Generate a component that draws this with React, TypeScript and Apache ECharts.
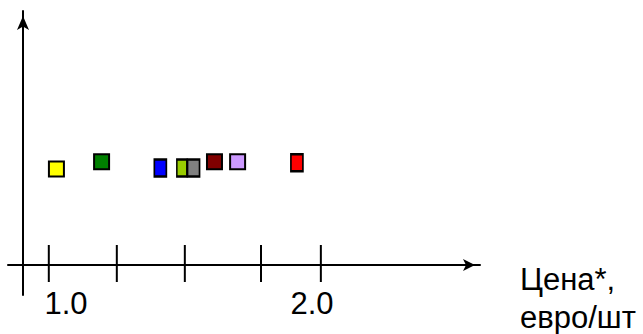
import React, { useEffect, useRef } from "react";
import * as echarts from "echarts";

// Price axis (euro per piece)
const TICK_VALUES = [1.0, 1.25, 1.5, 1.78, 2.0];
const TICK_LABELS = ["1.0", "2.0"];
const AXIS_TITLE = "Цена*,\nевро/шт";

// Products: price (x) and arbitrary vertical level (y)
const PRICES = [1.028, 1.194, 1.41, 1.489, 1.532, 1.609, 1.694, 1.912];
const LEVELS = [0.96, 1.033, 0.97, 0.97, 0.97, 1.033, 1.033, 1.022];
const COLORS = ["#FFFF00", "#008000", "#0000FF", "#99CC00", "#808080", "#800000", "#CC99FF", "#FF0000"];
const SIZES: [number, number][] = [[15, 15], [15, 15], [12, 17], [10, 17], [12, 17], [15, 15], [15, 15], [12, 17]];

const FONT = "'Liberation Sans', Arial, sans-serif";

export default function App() {
  const ref = useRef<HTMLDivElement>(null);
  useEffect(() => {
    if (!ref.current) return;
    const chart = echarts.init(ref.current, null, { renderer: "svg" });
    const scatterData = PRICES.map((p, i) => ({
      value: [p, LEVELS[i]],
      symbolSize: SIZES[i],
      itemStyle: { color: COLORS[i], borderColor: "#000", borderWidth: 2, opacity: 1 },
    }));
    chart.setOption({
      animation: false,
      backgroundColor: "#fff",
      grid: { left: 8, right: 163, top: 11, bottom: 39, containLabel: false },
      xAxis: {
        type: "value",
        min: 0.85,
        max: 2.585,
        axisLine: {
          onZero: true,
          lineStyle: { color: "#000", width: 2 },
          symbol: ["none", "arrow"],
          symbolSize: [9, 12],
          symbolOffset: [0, -5],
        },
        axisTick: { show: false },
        axisLabel: { show: false },
        splitLine: { show: false },
      },
      yAxis: {
        type: "value",
        min: -0.3,
        max: 2.54,
        offset: -15,
        axisLine: {
          show: true,
          onZero: false,
          lineStyle: { color: "#000", width: 2 },
          symbol: ["none", "arrow"],
          symbolSize: [9, 14],
          symbolOffset: [0, -5],
        },
        axisTick: { show: false },
        axisLabel: { show: false },
        splitLine: { show: false },
      },
      series: [
        {
          type: "custom",
          data: TICK_VALUES.map((v) => [v, 0]),
          renderItem: (params: any, api: any) => {
            const p = api.coord([api.value(0), 0]);
            return {
              type: "line",
              shape: { x1: p[0], y1: p[1] - 20, x2: p[0], y2: p[1] + 17 },
              style: { stroke: "#000", lineWidth: 2 },
            };
          },
          silent: true,
          z: 3,
        },
        {
          type: "scatter",
          symbol: "rect",
          data: scatterData,
          itemStyle: { opacity: 1 },
          z: 5,
        },
      ],
      graphic: [
        {
          type: "text",
          x: 66,
          y: 303,
          style: { text: TICK_LABELS[0], font: `31px ${FONT}`, fill: "#000", align: "center", verticalAlign: "middle" },
        },
        {
          type: "text",
          x: 312,
          y: 303,
          style: { text: TICK_LABELS[1], font: `31px ${FONT}`, fill: "#000", align: "center", verticalAlign: "middle" },
        },
        {
          type: "text",
          x: 520,
          y: 260,
          style: { text: AXIS_TITLE, font: `31px ${FONT}`, fill: "#000", align: "left", verticalAlign: "top", lineHeight: 38 },
        },
      ],
    });
    return () => chart.dispose();
  }, []);
  return <div ref={ref} style={{ position: "fixed", left: 0, top: 0, width: 643, height: 334 }} />;
}
